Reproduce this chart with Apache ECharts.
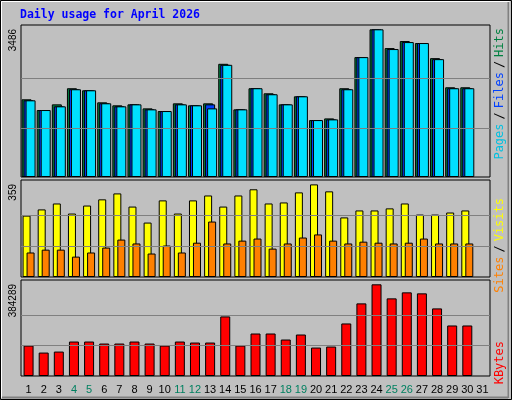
<!DOCTYPE html>
<html><head><meta charset="utf-8">
<script src="https://cdn.jsdelivr.net/npm/echarts@6/dist/echarts.min.js"></script>
<style>html,body{margin:0;padding:0;background:#c0c0c0}#c{width:512px;height:400px}</style>
</head><body><div id="c"></div>
<script>
const days = ['1','2','3','4','5','6','7','8','9','10','11','12','13','14','15','16','17','18','19','20','21','22','23','24','25','26','27','28','29','30','31'];
const weekends = ['4','5','11','12','18','19','25','26'];
const hits   = [1834,1581,1715,2095,2047,1763,1692,1715,1620,1557,1739,1692,1739,2672,1597,2095,1976,1715,1905,1344,1383,2095,2830,3486,3043,3209,3162,2806,2118,2118,null];
const files  = [1810,1581,1668,2071,2047,1740,1668,1715,1597,1557,1715,1692,1620,2648,1597,2095,1953,1715,1905,1344,1360,2071,2830,3486,3020,3185,3162,2782,2095,2095,null];
const pages  = [1810,1581,1668,2071,2047,1740,1668,1715,1597,1557,1715,1692,1715,2648,1597,2095,1953,1715,1905,1344,1360,2071,2830,3486,3020,3185,3162,2782,2095,2095,null];
const visits = [238,262,285,246,277,301,324,273,211,297,246,297,316,273,316,340,285,289,328,359,332,231,258,258,266,285,242,242,250,258,null];
const sites  = [95,106,106,79,95,114,145,130,91,122,95,133,215,130,141,149,110,130,153,165,141,130,137,133,130,133,149,130,130,130,null];
const kbytes = [127630,98175,102382,144460,144460,136045,136045,144460,136045,127630,144460,140252,140252,249648,127630,178119,178119,152873,173912,119214,123421,220196,304345,384289,325383,350628,346420,283307,211781,211781,null];
const maxHits = 3486, maxVisits = 359, maxKB = 384289;

const chart = echarts.init(document.getElementById('c'));
const grids = [
  {left:21,right:22,top:25,height:152},
  {left:21,right:22,top:180,height:97},
  {left:21,right:22,top:280,height:96}
];
function xa(i,show){return {type:'category',gridIndex:i,data:days,boundaryGap:true,
  axisLine:{show:false},axisTick:{show:false},
  axisLabel:{show:show,interval:0,margin:8,fontFamily:'Liberation Sans',fontSize:11,
    color:function(v){return weekends.indexOf(v)>=0?'#008060':'#000';}}};}
function ya(i,max){return {type:'value',gridIndex:i,min:0,max:max,axisLine:{show:false},axisTick:{show:false},axisLabel:{show:false},splitLine:{show:false}};}
function ml(v){return {silent:true,symbol:'none',label:{show:false},lineStyle:{color:'#808080',type:'solid',width:1},data:[{yAxis:v/3},{yAxis:2*v/3}]};}
const bs = {borderColor:'#000',borderWidth:1};
chart.setOption({
  animation:false,
  backgroundColor:'#c0c0c0',
  grid:grids.map(g=>Object.assign({show:true,backgroundColor:'#c0c0c0',borderColor:'#000',borderWidth:1},g)),
  xAxis:[xa(0,false),xa(1,false),xa(2,true)],
  yAxis:[ya(0,3588),ya(1,376),ya(2,402370)],
  series:[
    {type:'bar',xAxisIndex:0,yAxisIndex:0,data:hits,barWidth:10,barGap:'-80%',itemStyle:Object.assign({color:'#008040'},bs),markLine:ml(maxHits),z:2},
    {type:'bar',xAxisIndex:0,yAxisIndex:0,data:pages,barWidth:10,barGap:'-80%',itemStyle:Object.assign({color:'#0040ff'},bs),z:3},
    {type:'bar',xAxisIndex:0,yAxisIndex:0,data:files,barWidth:10,barGap:'-80%',itemStyle:Object.assign({color:'#00e0ff'},bs),z:4},
    {type:'bar',xAxisIndex:1,yAxisIndex:1,data:visits,barWidth:8,barGap:'-50%',itemStyle:Object.assign({color:'#ffff00'},bs),markLine:ml(maxVisits)},
    {type:'bar',xAxisIndex:1,yAxisIndex:1,data:sites,barWidth:8,barGap:'-50%',itemStyle:Object.assign({color:'#ff8000'},bs)},
    {type:'bar',xAxisIndex:2,yAxisIndex:2,data:kbytes,barWidth:10,itemStyle:Object.assign({color:'#ff0000'},bs),markLine:ml(maxKB)}
  ],
  graphic:[
    {type:'rect',shape:{x:0.5,y:0.5,width:511,height:399},style:{fill:'none',stroke:'#000',lineWidth:1},silent:true},
    {type:'rect',shape:{x:1.5,y:1.5,width:508,height:396},style:{fill:'none',stroke:'#fff',lineWidth:1},silent:true},
    {type:'rect',shape:{x:507.5,y:2,width:2,height:396},style:{fill:'#808080'},silent:true},
    {type:'rect',shape:{x:2,y:396.5,width:506,height:2},style:{fill:'#808080'},silent:true},
    {type:'text',x:20,y:9,style:{text:'Daily usage for April 2026',fill:'#0000ff',font:'bold 11.5px "DejaVu Sans Mono"'}},
    {type:'text',x:13,y:29,rotation:Math.PI/2,style:{text:String(maxHits),fill:'#000',font:'10px "Liberation Sans"',align:'right',verticalAlign:'middle'}},
    {type:'text',x:13,y:184,rotation:Math.PI/2,style:{text:String(maxVisits),fill:'#000',font:'10px "Liberation Sans"',align:'right',verticalAlign:'middle'}},
    {type:'text',x:13,y:284,rotation:Math.PI/2,style:{text:String(maxKB),fill:'#000',font:'10px "Liberation Sans"',align:'right',verticalAlign:'middle'}},
    {type:'text',x:500,y:28,rotation:Math.PI/2,style:{text:'{p|Pages}{s|/}{f|Files}{s|/}{h|Hits}',align:'right',verticalAlign:'middle',font:'12px "DejaVu Sans Mono"',
      rich:{p:{fill:'#00c0e0',font:'12px "DejaVu Sans Mono"'},f:{fill:'#0040ff',font:'12px "DejaVu Sans Mono"'},h:{fill:'#008040',font:'12px "DejaVu Sans Mono"'},s:{fill:'#000',font:'12px "DejaVu Sans Mono"',padding:[0,4]}}}},
    {type:'text',x:500,y:198,rotation:Math.PI/2,style:{text:'{a|Sites}{s|/}{b|Visits}',align:'right',verticalAlign:'middle',font:'12px "DejaVu Sans Mono"',
      rich:{a:{fill:'#ff8000',font:'12px "DejaVu Sans Mono"'},b:{fill:'#ffff00',font:'12px "DejaVu Sans Mono"'},s:{fill:'#000',font:'12px "DejaVu Sans Mono"',padding:[0,4]}}}},
    {type:'text',x:500,y:341,rotation:Math.PI/2,style:{text:'KBytes',fill:'#ff0000',align:'right',verticalAlign:'middle',font:'12px "DejaVu Sans Mono"'}}
  ]
});
</script></body></html>
